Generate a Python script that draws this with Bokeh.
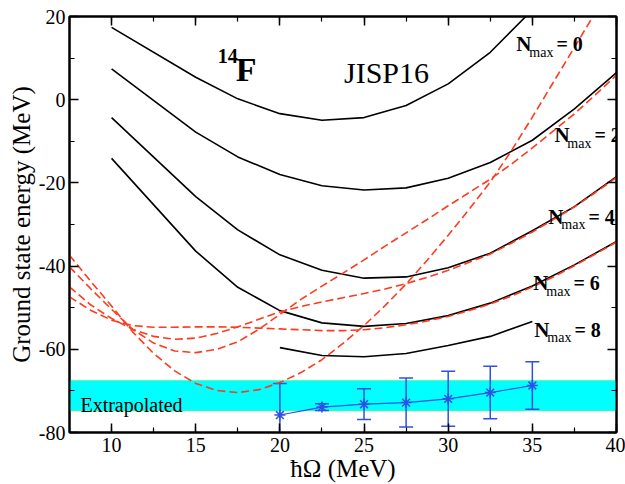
from bokeh.plotting import figure
from bokeh.models import (Range1d, LinearAxis, SingleIntervalTicker, Label,
                          Whisker, ColumnDataSource, BoxAnnotation, TeeHead,
                          CustomLabelingPolicy)
from bokeh.embed import file_html
from bokeh.resources import INLINE

# ---------------- data ----------------
hw = [10, 15, 17.5, 20, 22.5, 25, 27.5, 30, 32.5, 35, 37.5, 40]
nmax0 = [17.4, 5.4, 0.2, -3.35, -4.95, -4.3, -1.4, 3.8, 11.4, 21.6]
nmax2 = [7.4, -7.8, -13.75, -18.0, -20.7, -21.7, -21.2, -18.9, -15.1, -9.75, -2.2, 6.5]
nmax4 = [-4.3, -23.3, -31.3, -37.3, -41.0, -42.9, -42.6, -40.4, -36.9, -31.5, -25.7, -18.5]
nmax6 = [-14.1, -36.4, -45.1, -50.7, -53.65, -54.5, -53.8, -51.9, -48.9, -44.8, -39.7, -34.1]
hw8 = [20, 22.5, 25, 27.5, 30, 32.5, 35]
nmax8 = [-59.6, -61.5, -61.8, -61.0, -59.1, -56.9, -53.3]

hw_fit = [7.5, 8.75, 10, 11.25, 12.5, 13.75, 15, 16.25, 17.5, 18.75, 20, 21.25, 22.5,
          23.75, 25, 26.25, 27.5, 28.75, 30, 31.25, 32.5, 33.75, 35, 36.25, 37.5, 38.75, 40]
fit_a = [-37.4, -43.6, -49.6, -55.8, -61.0, -65.2, -68.2, -69.9, -70.4, -69.7, -68.0, -65.6, -62.5,
         -58.6, -54.3, -49.5, -44.3, -38.6, -32.6, -26.3, -19.8, -12.3, -4.2, 4.2, 12.6, 21.0, 29.4]
fit_b = [-40.2, -45.4, -50.4, -55.2, -58.5, -60.4, -60.8, -60.0, -58.2, -55.2, -51.6, -48.0, -44.8,
         -41.7, -38.5, -35.2, -32.0, -28.8, -25.5, -22.3, -19.1, -15.5, -11.6, -7.5, -3.4, 1.2, 5.9]
fit_c = [-45.0, -49.3, -52.6, -55.2, -56.9, -57.6, -57.3, -56.2, -54.6, -52.8, -51.0, -49.7, -48.6,
         -47.6, -46.6, -45.5, -44.2, -42.7, -41.0, -39.1, -37.1, -34.5, -31.8, -28.8, -25.8, -22.3, -18.7]
fit_d = [-47.4, -50.6, -53.0, -54.3, -54.7, -54.7, -54.6, -54.6, -54.7, -54.9, -55.1, -55.3, -55.5,
         -55.5, -55.3, -54.8, -54.1, -53.2, -52.1, -50.7, -49.1, -47.2, -45.0, -42.6, -39.9, -37.1, -34.2]

ext_hw = [20, 22.5, 25, 27.5, 30, 32.5, 35]
ext_E = [-75.8, -73.9, -73.2, -72.8, -71.9, -70.4, -68.7]
ext_err = [7.6, 0.8, 3.7, 5.9, 6.6, 6.3, 5.7]

band_lo = -74.8
band_hi = -67.5

y_ticks = [-80, -60, -40, -20, 0, 20]
y_tick_labels = ["-80", "-60", "-40", "-20", "0", "20"]

nmax_labels = ["0", "2", "4", "6", "8"]
nmax_label_x = [34.05, 36.31, 35.95, 35.06, 35.12]
nmax_label_y = [13.41, -8.55, -28.12, -44.07, -55.26]

FONT = "Liberation Serif"
RED = "#ff3b1f"
BLUE = "#2f4fe6"

p = figure(width=625, height=484, x_range=Range1d(7.5, 40), y_range=Range1d(-80, 20),
           output_backend="svg", toolbar_location=None,
           min_border_left=69, min_border_right=9, min_border_top=16, min_border_bottom=40)
p.grid.visible = False
p.outline_line_color = "black"
p.outline_line_width = 2

xt = SingleIntervalTicker(interval=5, num_minor_ticks=2)
yt = SingleIntervalTicker(interval=20, num_minor_ticks=2)

bottom_ax = p.below[0]
left_ax = p.left[0]
bottom_ax.ticker = xt
left_ax.ticker = yt
bottom_ax.axis_label = "ħΩ (MeV)"
left_ax.axis_label = "Ground state energy (MeV)"
left_ax.major_label_overrides = dict(zip(y_ticks, y_tick_labels))

no_labels = CustomLabelingPolicy(code="return new Set()")
top_ax = LinearAxis(ticker=xt, major_label_policy=no_labels)
right_ax = LinearAxis(ticker=yt, major_label_policy=no_labels)
p.add_layout(top_ax, "above")
p.add_layout(right_ax, "right")

for ax in [bottom_ax, left_ax, top_ax, right_ax]:
    ax.axis_line_width = 2
    ax.axis_line_color = "black"
    ax.major_tick_in = 9
    ax.major_tick_out = 0
    ax.minor_tick_in = 5
    ax.minor_tick_out = 0
    ax.major_tick_line_width = 1.5
    ax.minor_tick_line_width = 1.2
    ax.major_label_text_font = FONT
    ax.major_label_text_font_size = "20px"
    ax.major_label_text_color = "black"
    ax.axis_label_text_font = FONT
    ax.axis_label_text_font_size = "25px"
    ax.axis_label_text_font_style = "normal"
    ax.axis_label_text_color = "black"

for ax in [top_ax, right_ax]:
    ax.major_label_text_font_size = "1px"
    ax.major_label_standoff = 0
    ax.axis_label_standoff = 0

bottom_ax.major_label_standoff = 5
bottom_ax.axis_label_standoff = 0
left_ax.major_label_standoff = 4
left_ax.axis_label_standoff = 1

# extrapolated band
p.add_layout(BoxAnnotation(bottom=band_lo, top=band_hi, fill_color="#00ffff", fill_alpha=1.0,
                           line_color="#33dd33", line_width=1.5, level="underlay"))

# black NCSM curves
p.line(hw[:len(nmax0)], nmax0, line_color="black", line_width=1.6)
p.line(hw, nmax2, line_color="black", line_width=1.6)
p.line(hw, nmax4, line_color="black", line_width=1.6)
p.line(hw, nmax6, line_color="black", line_width=1.6)
p.line(hw8, nmax8, line_color="black", line_width=1.6)

# red dashed fits
for fit in [fit_a, fit_b, fit_c, fit_d]:
    p.line(hw_fit, fit, line_color=RED, line_width=1.6, line_dash="8 4")

# extrapolated points with error bars
src = ColumnDataSource(dict(x=ext_hw, y=ext_E,
                            upper=[e + d for e, d in zip(ext_E, ext_err)],
                            lower=[e - d for e, d in zip(ext_E, ext_err)]))
p.add_layout(Whisker(source=src, base="x", upper="upper", lower="lower", dimension="height",
                     line_color=BLUE, line_width=1.5,
                     upper_head=TeeHead(size=14, line_color=BLUE, line_width=1.5),
                     lower_head=TeeHead(size=14, line_color=BLUE, line_width=1.5)))
p.line("x", "y", source=src, line_color=BLUE, line_width=1.2)
p.scatter("x", "y", source=src, marker="asterisk", size=11, line_color=BLUE, line_width=1.5)

# texts
def lab(x, y, text, size, bold=False):
    p.add_layout(Label(x=x, y=y, text=text, text_font=FONT, text_font_size=size,
                       text_font_style="bold" if bold else "normal", text_color="black",
                       text_baseline="alphabetic"))

lab(16.31, 10.6, "14", "20px", True)
lab(17.38, 7.26, "F", "34px", True)
lab(23.81, 6.54, "JISP16", "30px")
lab(8.15, -73.46, "Extrapolated", "20px")

for t, lx, ly in zip(nmax_labels, nmax_label_x, nmax_label_y):
    lab(lx, ly, "N", "21px", True)
    lab(lx + 0.77, ly - 2.0, "max", "14px")
    lab(lx + 2.38, ly, "= " + t, "20px", True)

open("out.html", "w").write(file_html(p, INLINE))
